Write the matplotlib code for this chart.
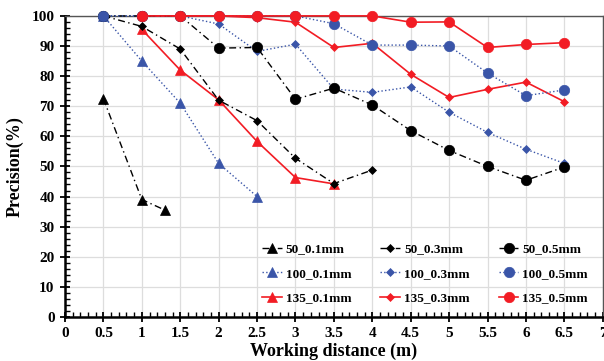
import matplotlib
matplotlib.use('Agg')
import matplotlib.pyplot as plt
from matplotlib.ticker import MultipleLocator

# Data
x_50_01 = [0.5, 1.0, 1.3]
y_50_01 = [72.5, 39.0, 35.5]
x_50_03 = [0.5, 1.0, 1.5, 2.0, 2.5, 3.0, 3.5, 4.0]
y_50_03 = [100, 96.5, 89.0, 72.0, 65.2, 52.7, 44.3, 48.8]
x_50_05 = [0.5, 1.0, 1.5, 2.0, 2.5, 3.0, 3.5, 4.0, 4.5, 5.0, 5.5, 6.0, 6.5]
y_50_05 = [100, 100, 100, 89.3, 89.5, 72.3, 76.0, 70.4, 61.9, 55.3, 50.0, 45.4, 49.8]

x_100_01 = [0.5, 1.0, 1.5, 2.0, 2.5]
y_100_01 = [100, 85.0, 71.0, 51.0, 40.0]
x_100_03 = [0.5, 1.0, 1.5, 2.0, 2.5, 3.0, 3.5, 4.0, 4.5, 5.0, 5.5, 6.0, 6.5]
y_100_03 = [100, 100, 100, 97.3, 88.2, 90.6, 75.7, 74.6, 76.4, 68.0, 61.3, 55.7, 51.0]
x_100_05 = [0.5, 1.0, 1.5, 2.0, 2.5, 3.0, 3.5, 4.0, 4.5, 5.0, 5.5, 6.0, 6.5]
y_100_05 = [100, 100, 100, 100, 100, 100, 97.4, 90.3, 90.3, 90.0, 81.0, 73.5, 75.4]

x_135_01 = [1.0, 1.5, 2.0, 2.5, 3.0, 3.5]
y_135_01 = [95.5, 82.0, 72.1, 58.3, 46.3, 44.2]
x_135_03 = [1.0, 1.5, 2.0, 2.5, 3.0, 3.5, 4.0, 4.5, 5.0, 5.5, 6.0, 6.5]
y_135_03 = [100, 100, 100, 99.4, 97.9, 89.5, 90.9, 80.6, 72.9, 75.6, 78.0, 71.5]
x_135_05 = [1.0, 1.5, 2.0, 2.5, 3.0, 3.5, 4.0, 4.5, 5.0, 5.5, 6.0, 6.5]
y_135_05 = [100, 100, 100, 100, 100, 100, 100, 97.9, 98.0, 89.5, 90.5, 91.1]

x_ticks = [0, 0.5, 1, 1.5, 2, 2.5, 3, 3.5, 4, 4.5, 5, 5.5, 6, 6.5, 7]
x_tick_labels = ['0', '0.5', '1', '1.5', '2', '2.5', '3', '3.5', '4', '4.5',
                 '5', '5.5', '6', '6.5', '7']

BLACK = '#000000'
BLUE = '#3A55A8'
RED = '#F21C24'

plt.rcParams['font.family'] = 'Liberation Serif'
plt.rcParams['font.weight'] = 'bold'

fig = plt.figure(figsize=(6.04, 3.61), dpi=100)
ax = fig.add_axes([0.1076, 0.122, 0.8904, 0.834])

dashdot = (0, (5, 2.5, 1, 2.5))

series = [
    (x_50_01, y_50_01, '50_0.1mm', BLACK, dashdot, '^', 6.5),
    (x_100_01, y_100_01, '100_0.1mm', BLUE, ':', '^', 6.5),
    (x_135_01, y_135_01, '135_0.1mm', RED, '-', '^', 6.5),
    (x_50_03, y_50_03, '50_0.3mm', BLACK, dashdot, 'D', 4.0),
    (x_100_03, y_100_03, '100_0.3mm', BLUE, ':', 'D', 4.0),
    (x_135_03, y_135_03, '135_0.3mm', RED, '-', 'D', 4.0),
    (x_50_05, y_50_05, '50_0.5mm', BLACK, dashdot, 'o', 7.5),
    (x_100_05, y_100_05, '100_0.5mm', BLUE, ':', 'o', 7.5),
    (x_135_05, y_135_05, '135_0.5mm', RED, '-', 'o', 7.5),
]

for xs, ys, label, color, ls, marker, ms in series:
    lw = 1.2 if ls == '-' else 1.0
    ax.plot(xs, ys, color=color, linestyle=ls, linewidth=lw, marker=marker,
            markersize=ms, markeredgewidth=0.5, label=label, clip_on=False, zorder=3)

ax.set_xlim(0, 7)
ax.set_ylim(0, 100)
ax.set_xticks(x_ticks)
ax.set_xticklabels(x_tick_labels)
ax.xaxis.set_minor_locator(MultipleLocator(0.1))
ax.yaxis.set_major_locator(MultipleLocator(10))
ax.yaxis.set_minor_locator(MultipleLocator(2))

ax.tick_params(axis='both', which='major', direction='inout', length=7, width=1.3,
               labelsize=11, pad=4)
ax.tick_params(axis='both', which='minor', direction='in', length=3.5, width=1.0)
for lab in ax.get_xticklabels() + ax.get_yticklabels():
    lab.set_fontweight('bold')

ax.grid(True, which='major', color='#DDDDDD', linewidth=0.9)
ax.set_axisbelow(True)

for side in ['left', 'bottom']:
    ax.spines[side].set_linewidth(1.8)
for side in ['top', 'right']:
    ax.spines[side].set_color('#555555')
    ax.spines[side].set_linewidth(1.0)

ax.set_xlabel('Working distance (m)', fontsize=13, fontweight='bold', labelpad=2)
ax.set_ylabel('Precision(%)', fontsize=13, fontweight='bold', labelpad=6)

ax.legend(ncol=3, loc='lower left', bbox_to_anchor=(0.366, 0.041), frameon=False,
          borderpad=0, borderaxespad=0,
          handlelength=1.5, handletextpad=0.3, columnspacing=2.2, labelspacing=0.93,
          prop={'family': 'Liberation Serif', 'weight': 'bold', 'size': 9.5})

fig.savefig('out.png', dpi=100)
